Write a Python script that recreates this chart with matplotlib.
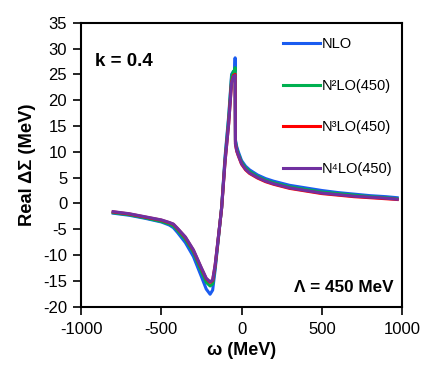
import matplotlib
matplotlib.use("Agg")
import matplotlib.pyplot as plt

plt.rcParams['font.family'] = ['Liberation Sans', 'DejaVu Sans']
plt.rcParams['axes.unicode_minus'] = False

omega = [-800, -700, -600, -500, -450, -425, -400, -350, -300, -250, -220, -196, -180,
         -165, -150, -124, -103, -80, -62, -50, -42, -40, -38, -30, -20, 0, 25, 50,
         100, 150, 200, 300, 400, 500, 600, 700, 800, 900, 970]

nlo = [-1.9, -2.3, -2.9, -3.6, -4.2, -4.7, -5.6, -7.6, -10.3, -14.2, -16.6, -17.6, -16.8,
       -13.0, -8.5, -0.7, 9.0, 17.0, 25.0, 25.6, 25.5, 28.2, 12.3, 11.0, 10.0, 8.3, 7.2, 6.5,
       5.5, 4.8, 4.3, 3.5, 3.0, 2.5, 2.1, 1.8, 1.5, 1.3, 1.1]

n2lo = [-1.8, -2.2, -2.8, -3.5, -4.0, -4.4, -5.2, -7.0, -9.5, -13.2, -15.3, -16.0, -15.6,
        -12.5, -8.3, -0.8, 8.5, 16.5, 24.5, 25.6, 25.8, 26.3, 12.0, 10.6, 9.6, 8.0, 6.9, 6.2,
        5.2, 4.5, 4.0, 3.2, 2.7, 2.2, 1.9, 1.6, 1.3, 1.1, 0.9]

n3lo = [-1.65, -2.05, -2.65, -3.25, -3.75, -4.05, -4.85, -6.6, -9.1, -12.6, -14.6, -15.3, -14.9,
        -12.1, -8.1, -0.9, 8.0, 15.5, 23.5, 24.8, 24.9, 25.0, 11.5, 10.1, 9.2, 7.6, 6.5, 5.8,
        4.9, 4.2, 3.7, 2.9, 2.4, 1.9, 1.6, 1.3, 1.1, 0.9, 0.75]

n4lo = [-1.6, -2.0, -2.6, -3.2, -3.7, -4.0, -4.8, -6.5, -9.0, -12.5, -14.5, -15.2, -14.8,
        -12.0, -8.0, -0.9, 8.0, 15.5, 23.4, 24.6, 24.7, 24.8, 11.5, 10.2, 9.3, 7.7, 6.6, 5.9,
        5.0, 4.3, 3.8, 3.0, 2.5, 2.0, 1.7, 1.4, 1.2, 1.0, 0.8]

labels = ['NLO', 'N²LO(450)', 'N³LO(450)', 'N⁴LO(450)']
colors = ['#1a5cf0', '#00b050', '#ff0000', '#7030a0']
xticks = [-1000, -500, 0, 500, 1000]
yticks = list(range(-20, 40, 5))

fig = plt.figure(figsize=(4.36, 3.69), dpi=100)
ax = fig.add_axes([0.186, 0.169, 0.736, 0.7695])

for ys, lab, col in zip([nlo, n2lo, n3lo, n4lo], labels, colors):
    ax.plot(omega, ys, color=col, lw=2.2, label=lab, solid_joinstyle='round')

ax.set_xlim(-1000, 1000)
ax.set_ylim(-20, 35)
ax.set_xticks(xticks)
ax.set_yticks(yticks)
ax.tick_params(direction='out', length=6, width=1.2, labelsize=12, colors='black')
ax.tick_params(axis='x', pad=5)
ax.tick_params(axis='y', pad=4)
for s in ax.spines.values():
    s.set_linewidth(1.5)

ax.set_xlabel('ω (MeV)', fontsize=13, fontweight='bold', labelpad=4)
ax.set_ylabel('Real ΔΣ (MeV)', fontsize=13.2, fontweight='bold', labelpad=5)

ax.text(0.044, 0.862, 'k = 0.4', transform=ax.transAxes, fontsize=13.5,
        fontweight='bold', ha='left', va='center')
ax.text(0.975, 0.069, 'Λ = 450 MeV', transform=ax.transAxes, fontsize=12.3,
        fontweight='bold', ha='right', va='center')

leg = ax.legend(loc='upper left', bbox_to_anchor=(0.630, 0.948), frameon=False,
                fontsize=10.5, handlelength=2.5, handletextpad=0.12,
                labelspacing=1.88, borderpad=0, borderaxespad=0)

fig.savefig('out.png', dpi=100)
